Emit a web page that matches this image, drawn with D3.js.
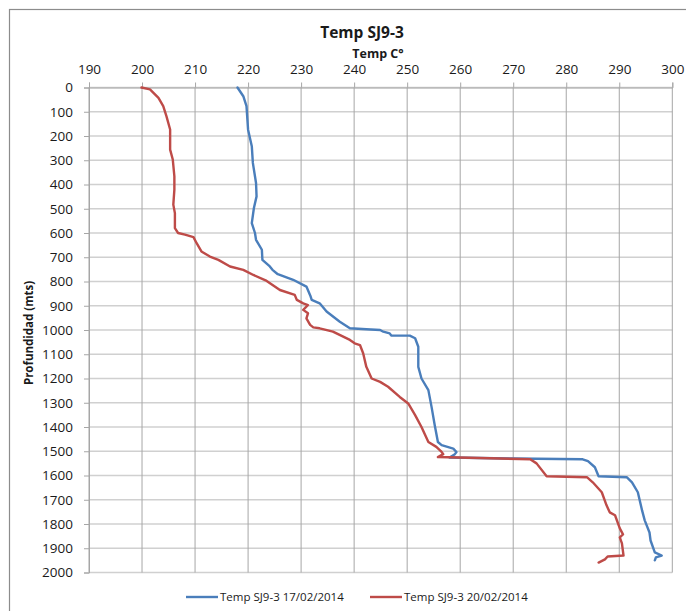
<!DOCTYPE html>
<html>
<head>
<meta charset="utf-8">
<script src="https://cdn.jsdelivr.net/npm/d3@7"></script>
<style>
  html, body { margin: 0; padding: 0; background: #fff; }
  svg { display: block; }
  text { font-family: "Open Sans", sans-serif; fill: #1a1a1a; }
</style>
</head>
<body>
<div id="chart"></div>
<script>
// ---- data ----
const seriesNames = ["Temp SJ9-3 17/02/2014", "Temp SJ9-3 20/02/2014"];
const seriesColors = ["#4a7ebb", "#be4b48"];
const xTicks = [190, 200, 210, 220, 230, 240, 250, 260, 270, 280, 290, 300];
const yTicks = [0, 100, 200, 300, 400, 500, 600, 700, 800, 900, 1000, 1100, 1200, 1300, 1400, 1500, 1600, 1700, 1800, 1900, 2000];

// depth (m), temperature (°C) — 17/02/2014
const blueDepth = [0, 36, 77, 174, 242, 311, 394, 449, 497, 559, 600, 628, 669, 711, 738, 752, 770, 793, 821, 862, 876, 890, 924, 966, 993, 997, 1000, 1007, 1014, 1023, 1023, 1034, 1069, 1152, 1200, 1248, 1317, 1393, 1462, 1475, 1489, 1503, 1512, 1526, 1530, 1533, 1541, 1566, 1603, 1607, 1628, 1669, 1744, 1785, 1835, 1868, 1917, 1930, 1938, 1950];
const blueTemp  = [218.0, 219.1, 219.7, 220.0, 220.7, 220.9, 221.5, 221.6, 221.1, 220.7, 221.3, 221.5, 222.6, 222.7, 224.1, 224.6, 225.6, 228.5, 231.0, 231.8, 232.0, 233.5, 234.8, 237.3, 239.2, 242.3, 244.9, 245.5, 246.7, 247.0, 250.5, 251.5, 252.1, 252.1, 252.7, 254.0, 254.6, 255.2, 255.8, 256.5, 258.7, 259.3, 259.0, 258.0, 270.0, 283.1, 284.1, 285.4, 286.1, 291.4, 292.4, 293.5, 294.3, 294.8, 295.7, 295.9, 296.7, 298.0, 296.9, 296.7];

// depth (m), temperature (°C) — 20/02/2014
const redDepth = [0, 8, 43, 77, 118, 173, 256, 297, 366, 421, 483, 518, 580, 600, 607, 617, 642, 676, 697, 711, 738, 752, 773, 795, 835, 855, 876, 890, 897, 917, 931, 952, 979, 989, 993, 1007, 1041, 1055, 1062, 1096, 1152, 1200, 1214, 1234, 1276, 1303, 1351, 1400, 1462, 1482, 1503, 1512, 1524, 1530, 1533, 1550, 1603, 1607, 1628, 1669, 1723, 1752, 1764, 1818, 1843, 1855, 1880, 1930, 1934, 1946, 1959];
const redTemp  = [199.9, 201.5, 203.1, 204.0, 204.6, 205.3, 205.3, 205.8, 206.1, 206.1, 205.9, 206.2, 206.2, 206.8, 208.1, 209.7, 210.3, 211.2, 212.8, 214.4, 216.6, 219.1, 221.0, 223.3, 226.0, 228.8, 229.2, 230.4, 231.3, 230.4, 231.3, 231.0, 231.7, 232.3, 233.5, 236.0, 239.2, 240.1, 241.1, 241.7, 242.3, 243.3, 244.9, 246.4, 248.6, 250.2, 251.5, 252.7, 254.0, 255.5, 256.5, 256.8, 255.8, 267.5, 273.2, 274.4, 276.3, 283.9, 285.0, 286.7, 287.6, 288.2, 289.2, 290.1, 290.7, 290.1, 290.5, 290.8, 287.8, 287.3, 286.1];

// ---- chart ----
const W = 686, H = 611;
const svg = d3.select("#chart").append("svg").attr("width", W).attr("height", H);

// outer chart border (extends beyond the window on right/bottom)
svg.append("rect").attr("x", 9.5).attr("y", 9.5).attr("width", 720).attr("height", 640)
  .attr("fill", "none").attr("stroke", "#8c8c8c").attr("stroke-width", 1.2);

const x = d3.scaleLinear().domain([190, 300]).range([89, 672.3]);
const y = d3.scaleLinear().domain([0, 2000]).range([87.5, 572.5]);

// horizontal gridlines
svg.append("g").selectAll("line").data(yTicks).join("line")
  .attr("x1", x(190)).attr("x2", x(300))
  .attr("y1", d => y(d)).attr("y2", d => y(d))
  .attr("stroke", "#d0d0d0").attr("stroke-width", 1.5);

// vertical gridlines
svg.append("g").selectAll("line").data(xTicks).join("line")
  .attr("x1", d => x(d)).attr("x2", d => x(d))
  .attr("y1", y(0)).attr("y2", y(2000))
  .attr("stroke", "#a6a6a6").attr("stroke-width", 1);

// top axis
const xAxis = svg.append("g").attr("transform", `translate(0,${y(0)})`)
  .call(d3.axisTop(x).tickValues(xTicks).tickSize(5).tickPadding(9).tickFormat(d3.format("d")));
xAxis.select(".domain").attr("stroke", "#a6a6a6");
xAxis.selectAll(".tick line").attr("stroke", "#a6a6a6");
xAxis.selectAll("text").style("font-size", "13.5px").attr("fill", "#1a1a1a");

// left axis
const yAxis = svg.append("g").attr("transform", `translate(${x(190)},0)`)
  .call(d3.axisLeft(y).tickValues(yTicks).tickSize(5).tickPadding(11).tickFormat(d3.format("d")));
yAxis.select(".domain").attr("stroke", "#a6a6a6");
yAxis.selectAll(".tick line").attr("stroke", "#a6a6a6");
yAxis.selectAll("text").style("font-size", "13.5px").attr("fill", "#1a1a1a");

// lines
const series = [
  blueDepth.map((d, i) => ({ d, t: blueTemp[i] })),
  redDepth.map((d, i) => ({ d, t: redTemp[i] }))
];
const line = d3.line().x(p => x(p.t)).y(p => y(p.d));
svg.append("g").selectAll("path").data(series).join("path")
  .attr("d", line)
  .attr("fill", "none")
  .attr("stroke", (s, i) => seriesColors[i])
  .attr("stroke-width", 2.4)
  .attr("stroke-linejoin", "round")
  .attr("stroke-linecap", "round");

// titles
svg.append("text").attr("x", 362).attr("y", 38).attr("text-anchor", "middle")
  .style("font-size", "15.5px").style("font-weight", "bold").text("Temp SJ9-3");
svg.append("text").attr("x", 378).attr("y", 58).attr("text-anchor", "middle")
  .style("font-size", "12.5px").style("font-weight", "bold").text("Temp C°");
svg.append("text").attr("transform", "translate(33,333) rotate(-90)").attr("text-anchor", "middle")
  .style("font-size", "11.5px").style("font-weight", "bold").text("Profundidad (mts)");

// legend
const legendX = [186, 370];
const lg = svg.append("g").selectAll("g").data(seriesNames).join("g")
  .attr("transform", (d, i) => `translate(${legendX[i]},597)`);
lg.append("line").attr("x1", 0).attr("x2", 32).attr("y1", 0).attr("y2", 0)
  .attr("stroke", (d, i) => seriesColors[i]).attr("stroke-width", 2.4);
lg.append("text").attr("x", 34).attr("y", 4).style("font-size", "11.5px").text(d => d);
</script>
</body>
</html>
